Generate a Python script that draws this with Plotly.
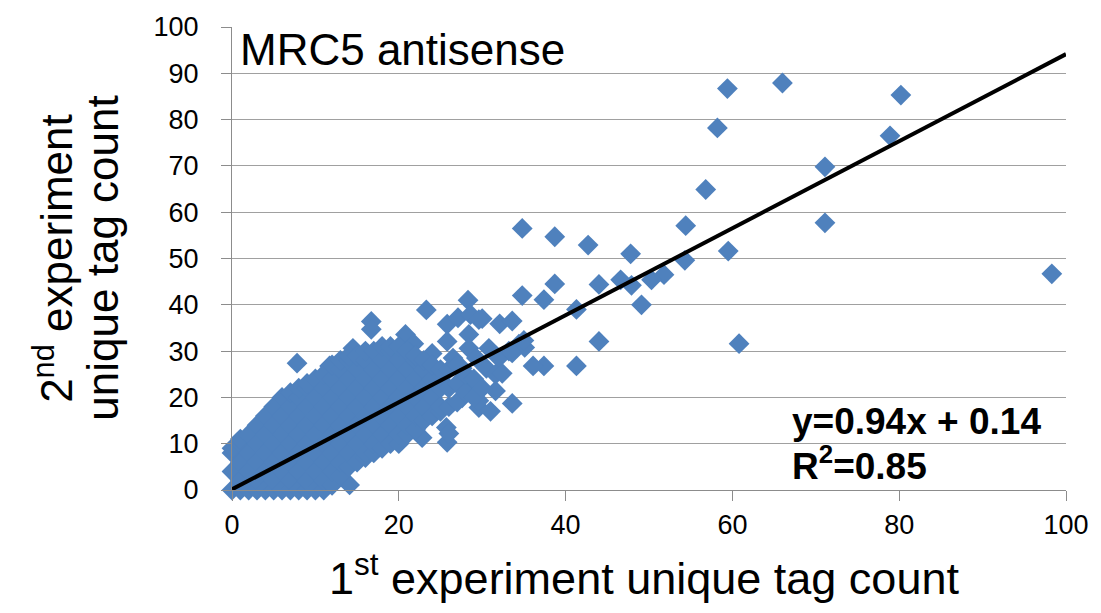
import plotly.graph_objects as go

# Outlying points (1st experiment count, 2nd experiment count)
outlier_x = [98.3, 66.0, 59.4, 80.2, 58.2, 78.9, 71.1, 56.8, 54.4, 71.1,
             59.5, 54.3, 51.8, 50.3, 49.1, 60.8, 47.9, 46.6, 44.0, 47.8,
             42.7, 38.7, 34.8, 38.7, 37.4, 34.8, 41.3, 44.0, 41.3, 37.4,
             36.1, 33.6, 30.0, 32.1, 33.6, 34.4, 35.1, 33.2, 32.0, 33.6,
             30.8, 30.5, 31.6, 32.4, 23.3, 28.3, 25.8, 27.1, 28.6, 29.6,
             20.8, 21.8, 21.3, 25.8, 28.4, 28.4, 29.3, 16.7, 16.7, 7.8,
             11.7, 14.5, 14.1, 29.6, 31.0, 25.7, 25.8, 26.0, 22.8, 23.7,
             27.6, 26.5, 24.0, 23.0, 28.5, 27.6, 29.6, 31.6, 24.9, 22.8,
             35.0, 29.6]
outlier_y = [46.7, 87.9, 86.7, 85.3, 78.2, 76.5, 69.8, 64.9, 57.1, 57.7,
             51.6, 49.6, 46.5, 45.4, 40.0, 31.6, 44.2, 45.4, 44.4, 51.0,
             52.9, 54.7, 56.5, 44.5, 41.1, 42.0, 39.0, 32.1, 26.8, 26.8,
             26.8, 18.7, 37.0, 35.9, 36.5, 31.5, 30.8, 30.0, 28.5, 29.6,
             30.6, 26.3, 25.0, 25.2, 38.9, 41.0, 35.8, 37.2, 37.9, 36.8,
             33.6, 31.6, 29.6, 32.1, 33.6, 30.6, 28.5, 36.4, 34.7, 27.4,
             26.8, 30.6, 1.1, 17.8, 17.0, 13.5, 10.3, 12.2, 11.3, 16.5,
             19.9, 28.5, 29.5, 26.0, 23.0, 26.3, 21.4, 21.4, 24.2, 22.1,
             32.3, 19.3]

# Dense low-count cluster, read column by column
cluster_x = [0, 0, 0, 0,
             1, 1, 1, 1, 1,
             2, 2, 2, 2,
             3, 3, 3, 3, 3,
             4, 4, 4, 4, 4,
             5, 5, 5, 5, 5, 5,
             6, 6, 6, 6, 6, 6,
             7, 7, 7, 7, 7, 7, 7,
             8, 8, 8, 8, 8, 8, 8,
             9, 9, 9, 9, 9, 9, 9, 9,
             10, 10, 10, 10, 10, 10, 10,
             11, 11, 11, 11, 11, 11, 11, 11,
             12, 12, 12, 12, 12, 12, 12, 12,
             13, 13, 13, 13, 13, 13, 13, 13,
             14, 14, 14, 14, 14, 14, 14, 14,
             15, 15, 15, 15, 15, 15, 15,
             16, 16, 16, 16, 16, 16, 16, 16,
             17, 17, 17, 17, 17, 17, 17,
             18, 18, 18, 18, 18, 18, 18,
             19, 19, 19, 19, 19, 19, 19,
             20, 20, 20, 20, 20, 20, 20,
             21, 21, 21, 21, 21, 21,
             22, 22, 22, 22, 22, 22,
             23, 23, 23, 23, 23,
             24, 24, 24, 24,
             25, 25, 25, 25,
             26, 26, 26,
             27, 27, 27,
             28, 28,
             29, 29,
             30]
cluster_y = [0, 4, 8, 9,
             0, 2, 6, 10, 11,
             0, 4, 8, 12,
             0, 2, 6, 10, 14,
             0, 4, 8, 12, 16,
             0, 2, 6, 10, 14, 18,
             0, 4, 8, 12, 16, 20,
             0, 2, 6, 10, 14, 18, 21,
             0, 4, 8, 12, 16, 20, 22,
             0, 2, 6, 10, 14, 18, 22, 23,
             0, 4, 8, 12, 16, 20, 24,
             0, 2, 6, 10, 14, 18, 22, 25,
             1, 4, 8, 12, 16, 20, 24, 27,
             3, 6, 10, 14, 18, 22, 26, 28,
             5, 8, 12, 16, 20, 24, 28, 29,
             6, 10, 14, 18, 22, 26, 29,
             7, 8, 12, 16, 20, 24, 28, 30,
             8, 10, 14, 18, 22, 26, 30,
             9, 12, 16, 20, 24, 28, 31,
             10, 14, 18, 22, 26, 30, 31,
             10, 12, 16, 20, 24, 28, 31,
             12, 14, 18, 22, 26, 30,
             13, 16, 20, 24, 28, 29,
             15, 18, 22, 26, 28,
             16, 20, 24, 27,
             17, 18, 22, 26,
             18, 22, 26,
             19, 23, 27,
             21, 25,
             20, 24,
             22]

# Linear trend line parameters
slope = 0.94
intercept = 0.14
r_squared = 0.85
trend_x = [0, 100]

x_ticks = [0, 20, 40, 60, 80, 100]
y_ticks = [0, 10, 20, 30, 40, 50, 60, 70, 80, 90, 100]

FONT = "Liberation Sans, Arial, sans-serif"
GRID = "#a0a0a0"
AXIS = "#8c8c8c"

fig = go.Figure()
fig.add_trace(go.Scatter(
    x=outlier_x + cluster_x, y=outlier_y + cluster_y,
    mode="markers",
    marker=dict(symbol="diamond", size=16, color="#4F81BD", line=dict(width=0)),
    cliponaxis=False, hoverinfo="x+y"))
fig.add_trace(go.Scatter(
    x=trend_x, y=[slope * v + intercept for v in trend_x],
    mode="lines", line=dict(color="black", width=4), cliponaxis=False))

fig.update_layout(
    width=1101, height=613,
    margin=dict(l=232, r=31, t=23, b=123),
    plot_bgcolor="white", paper_bgcolor="white",
    showlegend=False,
    font=dict(family=FONT, color="black"),
    xaxis=dict(range=[0, 100], tickvals=x_ticks, showgrid=False, zeroline=False,
               showline=True, linecolor=AXIS, linewidth=1.3,
               ticks="outside", ticklen=10, tickwidth=1.3, tickcolor=AXIS,
               tickfont=dict(size=27, family=FONT, color="black"),
               ticklabelstandoff=0),
    yaxis=dict(range=[0, 100], tickvals=y_ticks, showgrid=True, gridcolor=GRID,
               gridwidth=1.3, zeroline=False,
               showline=True, linecolor=AXIS, linewidth=1.3,
               ticks="outside", ticklen=10, tickwidth=1.3, tickcolor=AXIS,
               tickfont=dict(size=27, family=FONT, color="black"),
               ticklabelstandoff=17),
)

PW, PH, PL, PT = 838.0, 467.0, 232.0, 23.0

def px(xp):
    return (xp - PL) / PW

def py(yp):
    return (PT + PH - yp) / PH

annotations = [
    dict(text="MRC5 antisense", x=px(238), y=py(46), xanchor="left", yanchor="middle",
         font=dict(size=44, family=FONT, color="black")),
    dict(text=f"<b>y={slope}x + {intercept}</b>", x=px(793), y=py(421), xanchor="left",
         yanchor="middle", font=dict(size=37, family=FONT, color="black")),
    dict(text=f"<b>R<sup>2</sup>={r_squared}</b>", x=px(793), y=py(463), xanchor="left",
         yanchor="middle", font=dict(size=37, family=FONT, color="black")),
    dict(text="1<sup>st</sup> experiment unique tag count", x=px(646), y=py(576),
         xanchor="center", yanchor="middle", font=dict(size=45, family=FONT, color="black")),
    dict(text="2<sup>nd</sup> experiment", x=px(52), y=py(256), xanchor="center",
         yanchor="middle", textangle=-90, font=dict(size=44, family=FONT, color="black")),
    dict(text="unique tag count", x=px(101), y=py(256), xanchor="center",
         yanchor="middle", textangle=-90, font=dict(size=44, family=FONT, color="black")),
]
for a in annotations:
    a.update(xref="paper", yref="paper", showarrow=False)
fig.update_layout(annotations=annotations)

fig.write_html("out.html")
